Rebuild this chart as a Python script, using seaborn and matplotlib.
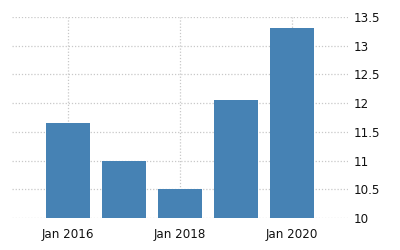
import matplotlib
matplotlib.use("Agg")
import matplotlib.pyplot as plt
import seaborn as sns
import pandas as pd

years = [2016, 2017, 2018, 2019, 2020]
values = [11.65, 11.0, 10.5, 12.05, 13.3]
xtick_years = [2016, 2018, 2020]
xtick_labels = ["Jan 2016", "Jan 2018", "Jan 2020"]
ytick_values = [10, 10.5, 11, 11.5, 12, 12.5, 13, 13.5]
ytick_labels = ["10", "10.5", "11", "11.5", "12", "12.5", "13", "13.5"]

sns.set_style("white")
plt.rcParams['font.family'] = ['DejaVu Sans']

df = pd.DataFrame({"year": years, "value": values})

fig = plt.figure(figsize=(4, 2.5), dpi=100)
ax = fig.add_axes([0.03, 0.128, 0.84, 0.804])

sns.barplot(data=df, x="year", y="value", native_scale=True, color="#4682b4",
            saturation=1, width=0.8, linewidth=0, edgecolor="none", ax=ax, zorder=2)

ax.set_xlim(2015, 2021)
ax.set_ylim(10, 13.5)
ax.set_xticks(xtick_years)
ax.set_xticklabels(xtick_labels)
ax.set_yticks(ytick_values)
ax.set_yticklabels(ytick_labels)
ax.yaxis.tick_right()
ax.set_xlabel("")
ax.set_ylabel("")
for s in ax.spines.values():
    s.set_visible(False)

ax.grid(True, axis="both", linestyle=(0, (1, 1.5)), color="#c8c8c8", linewidth=0.9, zorder=0)
ax.set_axisbelow(True)
ax.tick_params(axis="y", length=0, pad=4, labelsize=8.6, labelcolor="#111111")
ax.tick_params(axis="x", length=4, width=0.8, color="#c8c8c8", pad=3, labelsize=8.6, labelcolor="#111111")

fig.savefig("out.png", dpi=100)
